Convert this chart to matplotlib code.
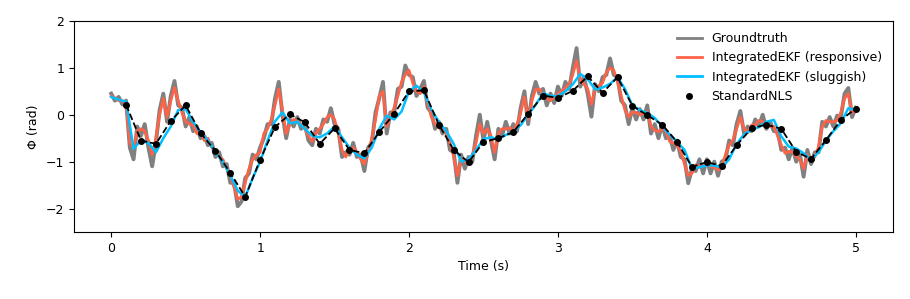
import numpy as np
from matplotlib import pyplot as plt

#  Groundtruth (шаг 0.025 с)
groundtruth = [
    0.45, 0.30, 0.38, 0.22, 0.30, -0.70, -0.95, -0.25, -0.45, -0.20,
    -0.70, -1.10, -0.60, 0.10, 0.45, -0.15, 0.40, 0.72, 0.20, 0.15,
    -0.25, -0.05, -0.35, -0.25, -0.50, -0.45, -0.65, -0.60, -0.90, -0.80,
    -1.10, -1.05, -1.45, -1.45, -1.95, -1.85, -1.35, -1.25, -0.85, -0.95,
    -0.70, -0.50, -0.20, -0.20, 0.35, 0.70, 0.00, -0.50, -0.10, -0.25,
    -0.05, -0.30, -0.20, -0.55, -0.65, -0.30, -0.40, -0.10, -0.15, 0.14,
    -0.20, -0.30, -0.90, -0.80, -0.85, -0.60, -0.90, -0.85, -1.20, -0.70,
    -0.60, 0.05, 0.35, 0.70, -0.40, 0.05, 0.05, 0.55, 0.60, 1.05,
    0.85, 0.80, 0.40, 0.55, 0.72, 0.15, 0.05, -0.30, -0.15, -0.40,
    -0.30, -0.75, -0.80, -1.45, -0.85, -1.15, -0.90, -1.00, -0.45, 0.00,
    -0.55, -0.15, -0.55, -0.95, -0.30, -0.45, -0.15, -0.40, -0.20, -0.35,
    0.15, 0.50, -0.20, 0.40, 0.70, 0.45, 0.55, 0.20, 0.45, 0.25,
    0.60, 0.40, 0.70, 0.55, 1.00, 1.42, 0.60, 0.80, 0.45, -0.04,
    0.65, 0.50, 0.80, 0.85, 1.20, 0.85, 0.80, 0.30, 0.20, -0.20,
    0.15, -0.10, 0.12, -0.10, 0.20, -0.40, -0.20, -0.50, -0.20, -0.50,
    -0.45, -0.75, -0.55, -0.90, -0.95, -1.46, -1.15, -1.20, -0.95, -1.25,
    -0.95, -1.25, -1.00, -1.30, -1.00, -0.95, -0.55, -0.65, -0.20, 0.08,
    -0.40, -0.25, -0.35, -0.10, -0.25, 0.00, -0.30, -0.15, -0.35, -0.35,
    -0.75, -0.70, -0.95, -0.70, -1.00, -0.85, -1.32, -0.75, -1.05, -0.80,
    -0.80, -0.15, -0.25, -0.05, -0.25, -0.02, -0.05, 0.45, 0.57, -0.05,
    0.15,
]

#  IntegratedEKF responsive (шаг 0.025 с)
ekf_resp = [
    0.40, 0.36, 0.30, 0.30, 0.22, -0.60, -0.70, -0.35, -0.30, -0.35,
    -0.55, -0.85, -0.50, 0.00, 0.35, -0.05, 0.30, 0.58, 0.30, 0.05,
    -0.15, -0.20, -0.22, -0.40, -0.35, -0.55, -0.50, -0.70, -0.75, -0.90,
    -0.95, -1.15, -1.30, -1.55, -1.80, -1.75, -1.45, -1.15, -0.95, -0.85,
    -0.80, -0.40, -0.30, -0.10, 0.20, 0.55, 0.10, -0.40, -0.20, -0.10,
    -0.15, -0.20, -0.30, -0.45, -0.57, -0.40, -0.30, -0.20, -0.05, 0.00,
    -0.10, -0.40, -0.75, -0.90, -0.75, -0.70, -0.80, -0.95, -1.05, -0.80,
    -0.50, -0.10, 0.40, 0.50, -0.25, -0.05, 0.15, 0.40, 0.70, 0.85,
    0.95, 0.68, 0.50, 0.45, 0.60, 0.25, -0.05, -0.20, -0.28, -0.30,
    -0.40, -0.60, -0.90, -1.30, -0.96, -1.00, -1.04, -0.85, -0.60, -0.20,
    -0.40, -0.30, -0.45, -0.80, -0.40, -0.30, -0.30, -0.28, -0.35, -0.20,
    0.05, 0.38, -0.10, 0.30, 0.54, 0.55, 0.42, 0.35, 0.30, 0.39,
    0.45, 0.50, 0.58, 0.65, 0.86, 1.15, 0.75, 0.65, 0.55, 0.22,
    0.55, 0.62, 0.68, 0.90, 1.00, 0.95, 0.70, 0.40, 0.10, -0.05,
    0.05, 0.05, 0.00, 0.03, 0.07, -0.25, -0.33, -0.36, -0.30, -0.35,
    -0.57, -0.60, -0.65, -0.78, -1.05, -1.30, -1.25, -1.07, -1.12, -1.10,
    -1.05, -1.10, -1.12, -1.18, -1.12, -0.85, -0.65, -0.54, -0.30, -0.05,
    -0.30, -0.38, -0.22, -0.22, -0.12, -0.15, -0.20, -0.25, -0.25, -0.45,
    -0.65, -0.82, -0.78, -0.80, -0.88, -0.95, -1.15, -0.85, -0.95, -0.90,
    -0.68, -0.25, -0.12, -0.15, -0.15, -0.12, 0.05, 0.35, 0.45, 0.05,
    0.10,
]

#  IntegratedEKF sluggish (шаг 0.05 с)
ekf_slug = [
    0.38, 0.32, 0.28, -0.72, -0.55, -0.60, -0.80, -0.50, -0.25, 0.10,
    0.12, -0.15, -0.38, -0.55, -0.80, -1.00, -1.30, -1.62, -1.75, -1.35,
    -1.00, -0.55, -0.14, 0.05, -0.18, -0.15, -0.30, -0.45, -0.48, -0.40,
    -0.25, -0.48, -0.70, -0.85, -0.93, -0.70, -0.30, -0.02, -0.10, 0.07,
    0.50, 0.62, 0.48, 0.11, -0.15, -0.35, -0.62, -1.00, -0.95, -0.75,
    -0.52, -0.48, -0.52, -0.43, -0.36, -0.22, 0.00, 0.21, 0.46, 0.40,
    0.40, 0.50, 0.65, 0.87, 0.76, 0.54, 0.58, 0.66, 0.80, 0.55,
    0.20, 0.10, 0.04, -0.07, -0.25, -0.42, -0.58, -0.75, -1.15, -1.12,
    -1.08, -1.08, -1.13, -0.95, -0.62, -0.42, -0.32, -0.26, -0.15, -0.11,
    -0.46, -0.68, -0.72, -0.82, -0.96, -0.80, -0.55, -0.35, -0.18, 0.14,
    0.10,
]

#  StandardNLS (шаг 0.1 с, начиная с 0.1)
nls = [
    0.21, -0.55, -0.62, -0.13, 0.20, -0.39, -0.77, -1.24, -1.75, -0.96,
    -0.26, 0.01, -0.16, -0.62, -0.29, -0.75, -0.82, -0.37, 0.02, 0.50,
    0.52, -0.21, -0.75, -1.01, -0.58, -0.50, -0.37, 0.02, 0.41, 0.36,
    0.51, 0.82, 0.47, 0.80, 0.19, -0.01, -0.21, -0.58, -1.11, -1.01,
    -1.09, -0.65, -0.29, -0.21, -0.30, -0.79, -0.94, -0.54, -0.11, 0.13,
]

t_gt = np.linspace(0, 5, len(groundtruth))
t_resp = np.linspace(0, 5, len(ekf_resp))
t_slug = np.linspace(0, 5, len(ekf_slug))
t_nls = np.linspace(0.1, 5, len(nls))

fig = plt.figure(figsize=(9.1, 2.99), dpi=100)
ax = fig.add_axes([0.0813, 0.224, 0.9, 0.706])

ax.plot(t_gt, groundtruth, color='gray', lw=2.8, label='Groundtruth')
ax.plot(t_resp, ekf_resp, color='tomato', lw=2.0, label='IntegratedEKF (responsive)')
ax.plot(t_slug, ekf_slug, color='deepskyblue', lw=1.8, label='IntegratedEKF (sluggish)')
ax.plot(t_nls, nls, 'k--', lw=1.3)
ax.plot(t_nls, nls, 'ko', ms=4, lw=0, label='StandardNLS')

ax.set_xlim(-0.25, 5.25)
ax.set_ylim(-2.5, 2)
ax.set_yticks([-2, -1, 0, 1, 2])
ax.set_xlabel('Time (s)', fontsize=9)
ax.set_ylabel('Φ (rad)', fontsize=9)
ax.tick_params(labelsize=9)
leg = ax.legend(loc='upper right', frameon=False, fontsize=9)
for line in leg.get_lines()[:3]:
    line.set_linewidth(2.0)

plt.savefig('out.png')
